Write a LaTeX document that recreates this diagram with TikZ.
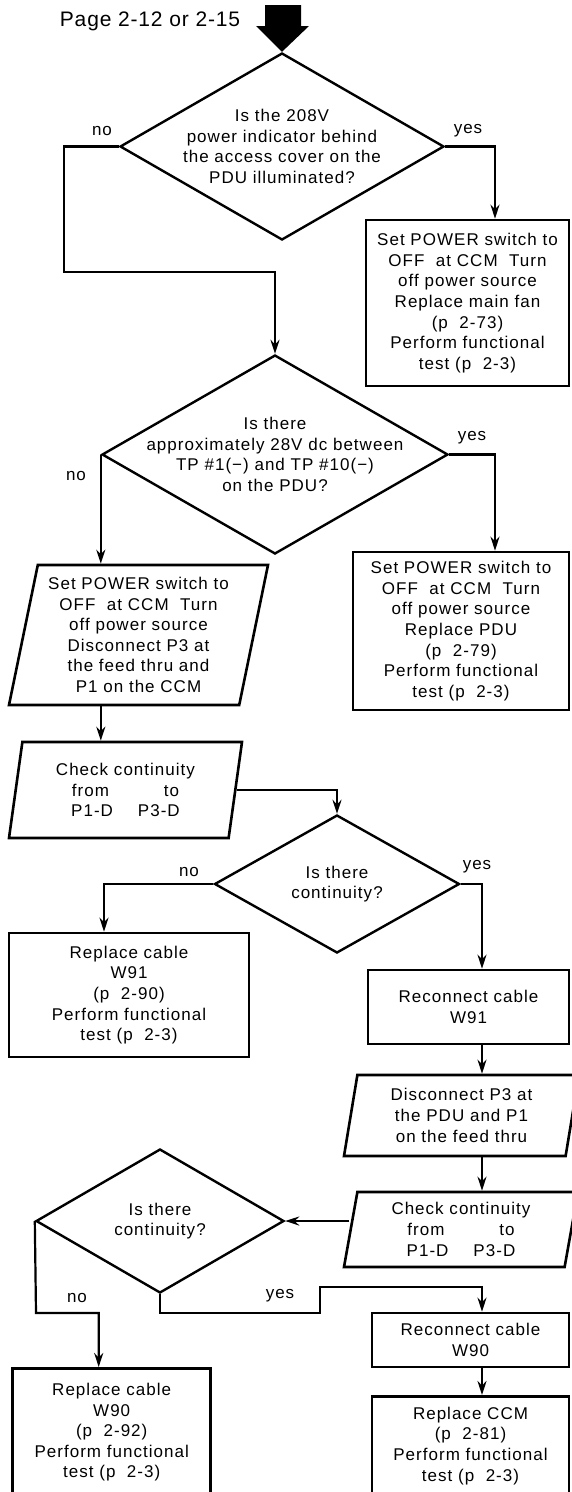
\documentclass[tikz,border=0pt]{standalone}
\usepackage{fontspec}
\newfontfamily\chartfont{Liberation Sans}[LetterSpace=6]
\newfontfamily\pagefont{Liberation Sans}[LetterSpace=4]
\usetikzlibrary{arrows.meta, shapes.geometric}
\newcommand\boxfont{\chartfont\fontsize{17}{20.6}\selectfont}

\begin{document}
\begin{tikzpicture}[
    x=1pt, y=-1pt,
    box/.style={draw, line width=2.6pt, font=\boxfont, align=center, inner sep=0pt},
    iobox/.style={draw, line width=2.6pt, trapezium, trapezium stretches body=true,
                  trapezium left angle=76, trapezium right angle=104,
                  font=\boxfont, align=center, inner sep=0pt},
    decision/.style={draw, diamond, line width=2.4pt, shape aspect=1.75,
                     inner sep=-20pt, font=\boxfont, align=center},
    lbl/.style={font=\boxfont, inner sep=0pt},
    flow/.style={line width=2.2pt},
    >={Stealth[length=14pt, width=9pt]}
  ]
  \useasboundingbox (0,0) rectangle (571,1492);

  \node[font=\pagefont\fontsize{21}{25}\selectfont, anchor=base] (page) at (150,26) {Page 2-12 or 2-15};

  \node[decision, minimum width=324pt, minimum height=187pt] (q1) at (282,146.5)
    {Is the 208V\\power indicator behind\\the access cover on the\\PDU illuminated?};
  \node[box, minimum width=203pt, minimum height=166pt] (fan) at (467.5,303)
    {Set POWER switch to\\OFF~ at CCM~ Turn\\off power source\\Replace main fan\\(p~ 2-73)\\Perform functional\\test (p~ 2-3)};
  \node[decision, minimum width=346pt, minimum height=199pt] (q2) at (275,454.5)
    {Is there\\approximately 28V dc between\\TP \#1(−) and TP \#10(−)\\on the PDU?};
  \node[box, minimum width=216pt, minimum height=158pt] (pdu) at (461,631)
    {Set POWER switch to\\OFF~ at CCM~ Turn\\off power source\\Replace PDU\\(p~ 2-79)\\Perform functional\\test (p~ 2-3)};
  \node[iobox, minimum width=259pt, minimum height=140pt] (dis1) at (138.5,635)
    {Set POWER switch to\\OFF~ at CCM~ Turn\\off power source\\Disconnect P3 at\\the feed thru and\\P1 on the CCM};
  \node[iobox, minimum width=233pt, minimum height=96pt] (chk1) at (125.5,790)
    {Check continuity\\from\hspace{55pt}to\\P1-D\hspace{25pt}P3-D};
  \node[decision, minimum width=245pt, minimum height=138pt] (q3) at (337,884)
    {Is there\\continuity?};
  \node[box, minimum width=240pt, minimum height=124pt] (w91) at (129,995)
    {Replace cable\\W91\\(p~ 2-90)\\Perform functional\\test (p~ 2-3)};
  \node[box, minimum width=201pt, minimum height=74pt] (rc91) at (468.5,1007)
    {Reconnect cable\\W91};
  \node[iobox, minimum width=235pt, minimum height=81pt] (dis2) at (461.5,1115.5)
    {Disconnect P3 at\\the PDU and P1\\on the feed thru};
  \node[iobox, minimum width=234pt, minimum height=75pt] (chk2) at (461,1229.5)
    {Check continuity\\from\hspace{55pt}to\\P1-D\hspace{25pt}P3-D};
  \node[decision, minimum width=248pt, minimum height=144pt] (q4) at (160,1221)
    {Is there\\continuity?};
  \node[box, minimum width=197pt, minimum height=54pt] (rc90) at (470.5,1340)
    {Reconnect cable\\W90};
  \node[box, minimum width=197pt, minimum height=99pt, anchor=north] (ccm) at (470.5,1395)
    {Replace CCM\\(p~ 2-81)\\Perform functional\\test (p~ 2-3)};
  \node[box, minimum width=198pt, minimum height=128pt, anchor=north] (w90) at (111.7,1367)
    {Replace cable\\W90\\(p~ 2-92)\\Perform functional\\test (p~ 2-3)};

  \node[lbl] (no1) at (102,131) {no};
  \node[lbl] (yes1) at (468,131) {yes};
  \node[lbl] (no2) at (76,476) {no};
  \node[lbl] (yes2) at (472,438) {yes};
  \node[lbl] (no3) at (189,872) {no};
  \node[lbl] (yes3) at (477,867) {yes};
  \node[lbl] (no4) at (77,1298) {no};
  \node[lbl] (yes4) at (280,1296) {yes};

  \coordinate (n1) at (64,272);
  \coordinate (n4) at (36,1313);
  \coordinate (y4a) at (320,1313);
  \coordinate (y4b) at (320,1287);
  \coordinate (col) at (482,0);

  \fill (265,5) -- (301,5) -- (301,26) -- (309,26) -- (q1.north) -- (256,26) -- (265,26) -- cycle;

  \draw[flow, ->] (q1.west) -| (n1) -| (q2.north);
  \draw[flow, ->] (q1.east) -| ([xshift=27.5pt]fan.north);
  \draw[flow, ->] (q2.west) -- (q2.west |- dis1.north);
  \draw[flow, ->] (q2.east) -| ([xshift=34pt]pdu.north);
  \draw[flow, ->] (dis1.south -| q2.west) -- (chk1.north -| q2.west);
  \draw[flow, ->] (chk1.east) -| (q3.north);
  \draw[flow, ->] (q3.west) -| ([xshift=-25pt]w91.north);
  \draw[flow, ->] (q3.east) -| (rc91.north -| col);
  \draw[flow, ->] (rc91.south -| col) -- (dis2.north -| col);
  \draw[flow, ->] (dis2.south -| col) -- (chk2.north -| col);
  \draw[flow, ->] (chk2.west |- q4.east) -- (q4.east);
  \draw[flow, ->] (q4.west) -- (n4) -| ([xshift=-13pt]w90.north);
  \draw[flow, ->] (q4.south) |- (y4a) -- (y4b) -| (rc90.north -| col);
  \draw[flow, ->] (rc90.south -| col) -- (ccm.north -| col);
\end{tikzpicture}
\end{document}
